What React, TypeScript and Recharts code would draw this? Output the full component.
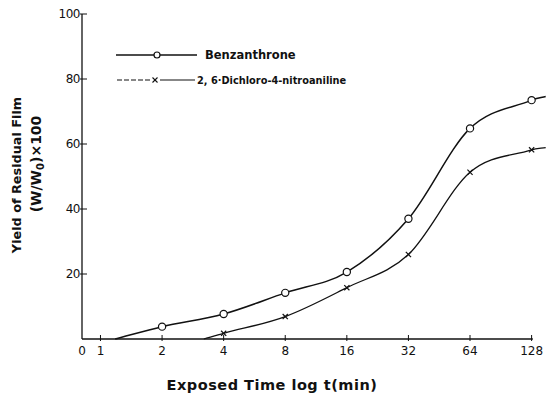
import React from "react";
import { LineChart, Line, XAxis, YAxis, ReferenceLine } from "recharts";

// exposure times (min) and residual film yield (W/W0 x 100)
const benzTimes = [1.18, 2, 4, 8, 16, 32, 64, 128, 150];
const benzYield = [0, 3.8, 7.7, 14.2, 20.6, 37, 64.8, 73.5, 74.6];

const dcnaTimes = [3.2, 4, 8, 16, 32, 64, 128, 150];
const dcnaYield = [0, 1.75, 6.9, 15.8, 26, 51.3, 58.2, 58.9];

// tick positions on log2 scale, "0" sits at the origin
const xTickVals = [-0.3, 0, 1, 2, 3, 4, 5, 6, 7];
const xTickLabels = ["0", "1", "2", "4", "8", "16", "32", "64", "128"];
const yTicks = [20, 40, 60, 80, 100];

// markers only at measured points, the end points are curve extensions
const measured = [2, 4, 8, 16, 32, 64, 128];

const toRows = (times: number[], vals: number[]) =>
  times.map((t, i) => ({ lt: Math.log2(t), v: vals[i], t }));

const benzData = toRows(benzTimes, benzYield);
const dcnaData = toRows(dcnaTimes, dcnaYield);

const ink = "#111";
const tickFont = "'DejaVu Sans', sans-serif";

// Catmull-Rom style hermite curve (non-uniform x), smoother than monotone here
function smoothCurve(context: any) {
  let pts: number[][] = [];
  return {
    areaStart() {},
    areaEnd() {},
    lineStart() {
      pts = [];
    },
    point(x: number, y: number) {
      pts.push([+x, +y]);
    },
    lineEnd() {
      const n = pts.length;
      if (!n) return;
      const slope = (i: number) => {
        const a = pts[Math.max(0, i - 1)];
        const b = pts[Math.min(n - 1, i + 1)];
        return (b[1] - a[1]) / (b[0] - a[0] || 1);
      };
      context.moveTo(pts[0][0], pts[0][1]);
      for (let i = 0; i < n - 1; i++) {
        const [x0, y0] = pts[i];
        const [x1, y1] = pts[i + 1];
        const dx = (x1 - x0) / 3;
        context.bezierCurveTo(x0 + dx, y0 + slope(i) * dx, x1 - dx, y1 - slope(i + 1) * dx, x1, y1);
      }
    },
  };
}

function CircleDot(props: any) {
  const { cx, cy, payload } = props;
  if (!measured.includes(payload.t)) return null;
  return <circle cx={cx} cy={cy} r={3.6} fill="#fff" stroke={ink} strokeWidth={1.2} />;
}

function CrossDot(props: any) {
  const { cx, cy, payload } = props;
  if (!measured.includes(payload.t)) return null;
  const s = 2.6;
  return (
    <g stroke={ink} strokeWidth={1.2}>
      <line x1={cx - s} y1={cy - s} x2={cx + s} y2={cy + s} />
      <line x1={cx - s} y1={cy + s} x2={cx + s} y2={cy - s} />
    </g>
  );
}

function XTick(props: any) {
  const { x, y, payload } = props;
  const i = xTickVals.indexOf(payload.value);
  return (
    <g>
      {i > 0 && <line x1={x} y1={y - 6} x2={x} y2={y} stroke={ink} strokeWidth={1} />}
      <text x={x} y={y + 14} textAnchor="middle" fontSize={12} fontFamily={tickFont} fill={ink}>
        {xTickLabels[i]}
      </text>
    </g>
  );
}

function YTick(props: any) {
  const { x, y, payload } = props;
  return (
    <g>
      <line x1={x} y1={y} x2={x + 7} y2={y} stroke={ink} strokeWidth={1} />
      <text x={x} y={y + 4} textAnchor="end" fontSize={12} fontFamily={tickFont} fill={ink} letterSpacing={-0.5}>
        {payload.value}
      </text>
    </g>
  );
}

export default function App() {
  return (
    <div style={{ position: "absolute", left: 0, top: 0, width: 547, height: 395, background: "#fff" }}>
      <LineChart
        width={547}
        height={395}
        margin={{ top: 14, right: 0, left: 0, bottom: 0 }}
      >
        <XAxis
          type="number"
          dataKey="lt"
          domain={[-0.3, 7.25]}
          ticks={xTickVals}
          interval={0}
          tick={<XTick />}
          tickLine={false}
          axisLine={false}
          tickSize={0}
          height={56}
          allowDataOverflow
        />
        <YAxis
          type="number"
          dataKey="v"
          domain={[0, 100]}
          ticks={yTicks}
          interval={0}
          tick={<YTick />}
          tickLine={false}
          axisLine={{ stroke: ink, strokeWidth: 1.3 }}
          tickSize={0}
          width={82}
        />
        <ReferenceLine
          segment={[{ x: -0.3, y: 0 }, { x: 7.02, y: 0 }]}
          stroke={ink}
          strokeWidth={1.4}
        />
        <Line
          data={benzData}
          dataKey="v"
          type={smoothCurve as any}
          stroke={ink}
          strokeWidth={1.5}
          dot={<CircleDot />}
          activeDot={false}
          isAnimationActive={false}
        />
        <Line
          data={dcnaData}
          dataKey="v"
          type={smoothCurve as any}
          stroke={ink}
          strokeWidth={1.3}
          dot={<CrossDot />}
          activeDot={false}
          isAnimationActive={false}
        />
      </LineChart>

      {/* legend */}
      <svg width={547} height={395} style={{ position: "absolute", left: 0, top: 0, pointerEvents: "none" }}>
        <line x1={116} y1={55} x2={197} y2={55} stroke={ink} strokeWidth={1.6} />
        <circle cx={157} cy={55} r={3} fill="#fff" stroke={ink} strokeWidth={1.2} />
        <text x={205} y={59} fontSize={11.5} fontWeight="bold" fontFamily={tickFont} fill={ink}>
          Benzanthrone
        </text>
        <line x1={117} y1={80} x2={150} y2={80} stroke={ink} strokeWidth={1.2} strokeDasharray="5 2" />
        <line x1={160} y1={80} x2={195} y2={80} stroke={ink} strokeWidth={1.2} />
        <g stroke={ink} strokeWidth={1.1}>
          <line x1={152.5} y1={77.5} x2={157.5} y2={82.5} />
          <line x1={152.5} y1={82.5} x2={157.5} y2={77.5} />
        </g>
        <text x={197} y={84} fontSize={9.8} fontWeight="bold" fontFamily={tickFont} fill={ink}>
          2, 6·Dichloro-4-nitroaniline
        </text>

        {/* axis titles */}
        <text
          x={272}
          y={390}
          textAnchor="middle"
          fontSize={14.5}
          fontWeight="bold"
          letterSpacing={0.5}
          fontFamily={tickFont}
          fill={ink}
        >
          Exposed Time log t(min)
        </text>
        <text
          transform="translate(21,175) rotate(-90)"
          textAnchor="middle"
          fontSize={12.8}
          fontWeight="bold"
          fontFamily={tickFont}
          fill={ink}
        >
          Yield of Residual Film
        </text>
        <text
          transform="translate(41,164) rotate(-90)"
          textAnchor="middle"
          fontSize={14}
          fontWeight="bold"
          fontFamily={tickFont}
          fill={ink}
        >
          (W/W<tspan fontSize={10} dy={3}>0</tspan><tspan dy={-3}>)×100</tspan>
        </text>
      </svg>
    </div>
  );
}
